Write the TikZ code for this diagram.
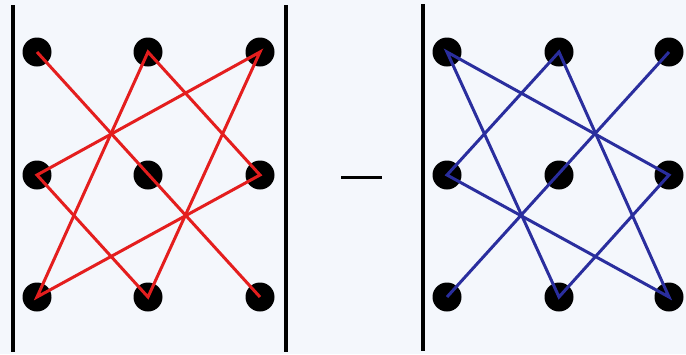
\documentclass[tikz,border=0pt]{standalone}
\usetikzlibrary{backgrounds}
\definecolor{bgc}{HTML}{F4F7FC}
\definecolor{redl}{HTML}{E41E1E}
\definecolor{bluel}{HTML}{2A2E9E}
\tikzset{
  dot/.style={circle,fill=black,minimum size=29pt,inner sep=0pt},
  bar/.style={line width=4pt,black},
  redpath/.style={line width=3pt,redl,line join=miter},
  bluepath/.style={line width=3pt,bluel,line join=miter},
}
\begin{document}
\begin{tikzpicture}[x=1pt,y=-1pt]
\fill[bgc] (0,0) rectangle (686,354);
\useasboundingbox (0,0) rectangle (686,354);
% left matrix dots
\foreach \c/\x in {1/37,2/148,3/260}{
  \foreach \r/\y in {1/52,2/175,3/297}{
    \node[dot] (L\r\c) at (\x,\y) {};
  }
}
\foreach \c/\x in {1/447,2/559,3/669}{
  \foreach \r/\y in {1/52,2/175,3/297}{
    \node[dot] (R\r\c) at (\x,\y) {};
  }
}
% bars
\coordinate (b1t) at (13,5); \coordinate (b1b) at (13,352);
\coordinate (b2t) at (286,5); \coordinate (b2b) at (286,352);
\coordinate (b3t) at (423,4); \coordinate (b3b) at (423,351);
\draw[bar] (b1t) -- (b1b);
\draw[bar] (b2t) -- (b2b);
\draw[bar] (b3t) -- (b3b);
% minus
\coordinate (m1) at (341,177); \coordinate (m2) at (382,177);
\draw[line width=3pt,black] (m1) -- (m2);
% red paths
\draw[redpath] (L11.center) -- (L33.center);
\draw[redpath] (L12.center) -- (L23.center) -- (L31.center) -- cycle;
\draw[redpath] (L13.center) -- (L21.center) -- (L32.center) -- cycle;
% blue paths
\draw[bluepath] (R13.center) -- (R31.center);
\draw[bluepath] (R11.center) -- (R23.center) -- (R32.center) -- cycle;
\draw[bluepath] (R12.center) -- (R21.center) -- (R33.center) -- cycle;
\end{tikzpicture}
\end{document}
